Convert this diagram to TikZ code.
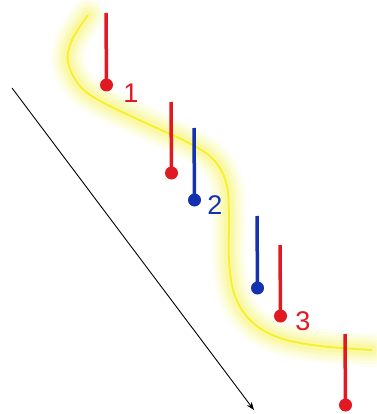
\documentclass[tikz,border=0pt]{standalone}
\usepackage{fontspec}
\setmainfont{Liberation Sans}
\usetikzlibrary{arrows.meta}
\definecolor{pred}{RGB}{225,25,35}
\definecolor{pblue}{RGB}{20,50,175}
\definecolor{pyel}{RGB}{245,240,40}
\definecolor{glow}{RGB}{250,245,90}
\tikzset{
  dot/.style={circle,fill=#1,inner sep=0pt,minimum size=13pt},
  stick/.style={draw=#1,line width=3.5pt},
  lbl/.style={text=#1,font=\fontsize{27}{27}\selectfont,inner sep=0pt}
}
\begin{document}
\begin{tikzpicture}[x=1pt,y=-1pt]
\useasboundingbox[fill=white] (0,0) rectangle (376,414);
\def\curve{plot[smooth,tension=0.6] coordinates {(88,15) (72,40) (68,62) (80,86) (102,102) (150,125) (185,141) (212,158) (226,182) (229,215) (229,260) (235,296) (252,322) (280,338) (320,346) (372,350)}}
\foreach \w/\o in {34/0.08,28/0.10,22/0.12,16/0.16,10/0.22}{
  \draw[glow,line width=\w pt,opacity=\o,line cap=round,line join=round] \curve;
}
\draw[pyel,line width=1.8pt] \curve;
% black arrow
\coordinate (as) at (12,88);
\coordinate (ae) at (254,410);
\draw[line width=0.9pt,-{Stealth[length=8pt,width=6pt]}] (as) -- (ae);
% sticks
\foreach \n/\c/\x/\yt/\yb in {r1/pred/106/13/85, r2/pred/171/102/173, b1/pblue/194/128/200, b2/pblue/257/216/288, r3/pred/280/245/316, r4/pred/345/334/405}{
  \coordinate (\n t) at (\x,\yt);
  \node[dot=\c] (\n) at (\x+0.5,\yb) {};
  \draw[stick=\c] (\n t) -- (\n.center);
}
\node[lbl=pred] (l1) at (131,93) {1};
\node[lbl=pblue] (l2) at (215,205) {2};
\node[lbl=pred] (l3) at (303,321) {3};
\end{tikzpicture}
\end{document}
